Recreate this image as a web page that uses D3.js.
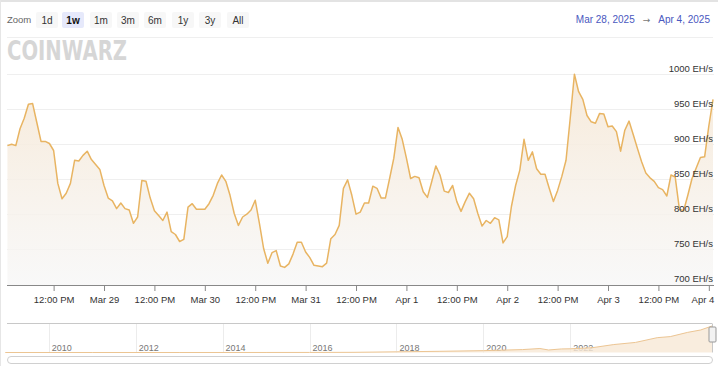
<!DOCTYPE html>
<html>
<head>
<meta charset="utf-8">
<script src="https://cdn.jsdelivr.net/npm/d3@7"></script>
<style>
	body { margin: 0; background: #fff; }
	svg { display: block; font-family: 'Liberation Sans', Arial, sans-serif; }
</style>
</head>
<body>
<svg id="svg-container" width="718" height="366"></svg>
<script>
// Hourly hashrate readings, first one at Mar 28 2025 01:00 UTC
var startTime = '2025-03-28T01:00:00Z';
var hashrate = [
	897, 899, 897, 921, 936, 956, 957, 930, 903, 903, 900, 890,
	843, 821, 829, 843, 876, 875, 883, 889, 877, 870, 863, 840,
	822, 818, 807, 815, 807, 805, 786, 795, 847, 846, 822, 804,
	797, 790, 802, 774, 770, 760, 763, 809, 814, 806, 806, 806,
	814, 826, 843, 855, 846, 826, 800, 783, 795, 799, 805, 819,
	786, 750, 729, 744, 747, 725, 723, 728, 742, 759, 759, 745,
	737, 726, 725, 724, 729, 764, 770, 783, 836, 848, 826, 799,
	802, 815, 815, 839, 836, 822, 822, 850, 879, 923, 906, 879,
	850, 853, 851, 831, 823, 845, 868, 855, 832, 830, 840, 817,
	803, 817, 829, 821, 800, 782, 790, 786, 794, 791, 758, 767,
	810, 840, 862, 906, 876, 888, 864, 856, 856, 836, 817, 833,
	853, 876, 936, 999, 974, 963, 940, 931, 929, 943, 942, 924,
	925, 917, 889, 919, 932, 913, 893, 874, 858, 851, 846, 837,
	834, 825, 855, 852, 806, 804, 826, 850, 865, 880, 881, 925,
	963
];
var yTicks = [700, 750, 800, 850, 900, 950, 1000];
var zoomButtons = ['1d', '1w', '1m', '3m', '6m', '1y', '3y', 'All'];
var activeButton = '1w';
var rangeFrom = 'Mar 28, 2025',
	rangeTo = 'Apr 4, 2025';

// Navigator: whole history (years, EH/s)
var navYears = [2009.0, 2011, 2013, 2015, 2016, 2017, 2018, 2019, 2020, 2020.9, 2021.3, 2021.5,
	2021.8, 2022, 2022.5, 2023, 2023.5, 2024, 2024.3, 2024.7, 2025, 2025.26];
var navValues = [0, 0, 0, 1, 2, 6, 25, 45, 70, 110, 150, 95,
	135, 140, 180, 300, 380, 560, 600, 760, 850, 1000];
var navLabels = [2010, 2012, 2014, 2016, 2018, 2020, 2022];

var svg = d3.select('#svg-container'),
	width = +svg.attr('width'),
	height = +svg.attr('height');
var plot = { left: 7, right: 714, top: 73.5, bottom: 285 },
	lineColor = '#e8b462';

// container borders
svg.append('line').attr('x1', 0).attr('x2', width).attr('y1', 1).attr('y2', 1)
	.attr('stroke', '#e3e3e3').attr('stroke-width', 2);
svg.append('line').attr('x1', 0.5).attr('x2', 0.5).attr('y1', 0).attr('y2', height)
	.attr('stroke', '#e6e6e6');

// Zoom buttons
svg.append('text').attr('x', 7).attr('y', 22.5).attr('font-size', 9.5)
	.attr('fill', '#666').text('Zoom');
var btnX = [36, 62, 90, 117, 144, 172, 199, 227];
var btn = svg.append('g').selectAll('g')
	.data(zoomButtons)
	.enter().append('g')
	.attr('transform', function (d, i) { return 'translate(' + btnX[i] + ',12)'; });
btn.append('rect')
	.attr('width', 22).attr('height', 16).attr('rx', 2)
	.attr('fill', function (d) { return d == activeButton ? '#e6e9fb' : '#f7f7f7'; });
btn.append('text')
	.attr('x', 11).attr('y', 11.5)
	.attr('text-anchor', 'middle')
	.attr('font-size', 10)
	.attr('font-weight', function (d) { return d == activeButton ? 'bold' : 'normal'; })
	.attr('fill', function (d) { return d == activeButton ? '#111' : '#333'; })
	.text(function (d) { return d; });

// date range (tspans need dx, svg collapses the spaces)
var range = svg.append('text').attr('x', 710).attr('y', 22.5).attr('text-anchor', 'end')
	.attr('font-size', 10).attr('fill', '#4a58c0');
range.append('tspan').text(rangeFrom);
range.append('tspan').attr('dx', 8).attr('font-family', "'DejaVu Sans', sans-serif").attr('font-size', 9)
	.attr('fill', '#777').text('\u2192');
range.append('tspan').attr('dx', 8).text(rangeTo);

svg.append('line').attr('x1', 7).attr('x2', 713).attr('y1', 37.5).attr('y2', 37.5)
	.attr('stroke', '#efefef');

// watermark logo
svg.append('text').attr('x', 7).attr('y', 60)
	.attr('font-family', "'DejaVu Sans', sans-serif")
	.attr('font-size', 26).attr('font-weight', 'bold')
	.attr('textLength', 120).attr('lengthAdjust', 'spacingAndGlyphs')
	.attr('fill', '#d6d6d6').text('COINWARZ');

// scales
var data = hashrate.map(function (v, i) {
	return { t: d3.utcHour.offset(new Date(startTime), i), v: v };
});
var x = d3.scaleUtc()
	.domain([new Date('2025-03-28T00:54:00Z'), new Date('2025-04-04T01:14:00Z')])
	.range([plot.left, plot.right]);
var y = d3.scaleLinear().domain([700, 1000]).range([283.5, plot.top]);

// gridlines
var grid = svg.append('g').attr('class', 'grid');
grid.selectAll('line')
	.data(yTicks.filter(function (d) { return d > 700; }))
	.enter().append('line')
	.attr('x1', plot.left).attr('x2', plot.right)
	.attr('y1', function (d) { return Math.round(y(d)) + 0.5; })
	.attr('y2', function (d) { return Math.round(y(d)) + 0.5; })
	.attr('stroke', '#efefef');

// area + line
var defs = svg.append('defs');
var grad = defs.append('linearGradient').attr('id', 'areaGrad')
	.attr('x1', 0).attr('x2', 0).attr('y1', 0).attr('y2', 1);
grad.append('stop').attr('offset', '0%').attr('stop-color', '#f6e8d6').attr('stop-opacity', 0.9);
grad.append('stop').attr('offset', '100%').attr('stop-color', '#f7f7f7').attr('stop-opacity', 0.8);

svg.append('path')
	.datum(data)
	.attr('fill', 'url(#areaGrad)')
	.attr('d', d3.area()
		.x(function (d) { return x(d.t); })
		.y0(plot.bottom)
		.y1(function (d) { return y(d.v); }));
svg.append('path')
	.datum(data)
	.attr('fill', 'none')
	.attr('stroke', lineColor)
	.attr('stroke-width', 1.5)
	.attr('stroke-linejoin', 'round')
	.attr('d', d3.line()
		.x(function (d) { return x(d.t); })
		.y(function (d) { return y(d.v); }));

// y labels sit on top of the gridlines
svg.append('g').selectAll('text')
	.data(yTicks)
	.enter().append('text')
	.attr('x', 713).attr('y', function (d) { return y(d) - 2; })
	.attr('text-anchor', 'end')
	.attr('font-size', 9.5).attr('fill', '#333')
	.text(function (d) { return d + ' EH/s'; });

// x axis
var xAxis = d3.axisBottom(x)
	.ticks(d3.utcHour.every(12))
	.tickSize(6)
	.tickFormat(function (d) {
		return d.getUTCHours() == 0 ? d3.utcFormat('%b %-d')(d) : d3.utcFormat('%I:%M %p')(d);
	});
var gx = svg.append('g').attr('transform', 'translate(0,' + plot.bottom + ')').call(xAxis);
gx.select('.domain').attr('stroke', '#888').attr('d', 'M' + plot.left + ',0.5H' + plot.right);
gx.selectAll('.tick line').attr('stroke', '#888');
gx.selectAll('.tick text')
	.attr('font-family', "'Liberation Sans', Arial, sans-serif")
	.attr('font-size', 9.5).attr('fill', '#333').attr('dy', '0.9em');
// keep the last label inside the chart
var lastTick = gx.selectAll('.tick').filter(function (d, i, n) { return i == n.length - 1; });
lastTick.select('text').attr('text-anchor', 'end').attr('x', 5);

// Navigator
var nav = { left: 7, right: 712, top: 323.5, bottom: 352.5 };
var nx = d3.scaleLinear().domain([2009.04, 2025.26]).range([nav.left, nav.right]);
var ny = d3.scaleLinear().domain([0, 1000]).range([nav.bottom, 326]);
var navData = navYears.map(function (d, i) { return { t: d, v: navValues[i] }; });

var navGrid = svg.append('g');
navGrid.selectAll('line')
	.data(navLabels)
	.enter().append('line')
	.attr('x1', function (d) { return Math.round(nx(d)) + 0.5; })
	.attr('x2', function (d) { return Math.round(nx(d)) + 0.5; })
	.attr('y1', nav.top).attr('y2', nav.bottom)
	.attr('stroke', '#ececec');
navGrid.selectAll('text')
	.data(navLabels)
	.enter().append('text')
	.attr('x', function (d) { return nx(d) + 3; })
	.attr('y', 351)
	.attr('font-size', 9).attr('fill', '#777')
	.text(function (d) { return d; });

svg.append('path')
	.datum(navData)
	.attr('fill', '#f7e9d6').attr('fill-opacity', 0.8)
	.attr('d', d3.area()
		.x(function (d) { return nx(d.t); })
		.y0(nav.bottom)
		.y1(function (d) { return ny(d.v); }));
svg.append('path')
	.datum(navData)
	.attr('fill', 'none').attr('stroke', '#ecc593').attr('stroke-width', 1)
	.attr('d', d3.line()
		.x(function (d) { return nx(d.t); })
		.y(function (d) { return ny(d.v); }));

svg.append('line').attr('x1', nav.left).attr('x2', nav.right)
	.attr('y1', nav.top).attr('y2', nav.top).attr('stroke', '#c8c8c8');
svg.append('line').attr('x1', nav.right + 0.5).attr('x2', nav.right + 0.5)
	.attr('y1', nav.top).attr('y2', nav.bottom).attr('stroke', '#c8c8c8');
svg.append('rect').attr('x', nav.right - 3).attr('y', 327).attr('width', 7).attr('height', 15)
	.attr('rx', 1).attr('fill', '#f2f2f2').attr('stroke', '#999');

// scrollbar
svg.append('rect').attr('x', 7.5).attr('y', 356.5).attr('width', 705).attr('height', 7)
	.attr('rx', 3.5).attr('fill', '#fff').attr('stroke', '#d0d0d0');
</script>
</body>
</html>
